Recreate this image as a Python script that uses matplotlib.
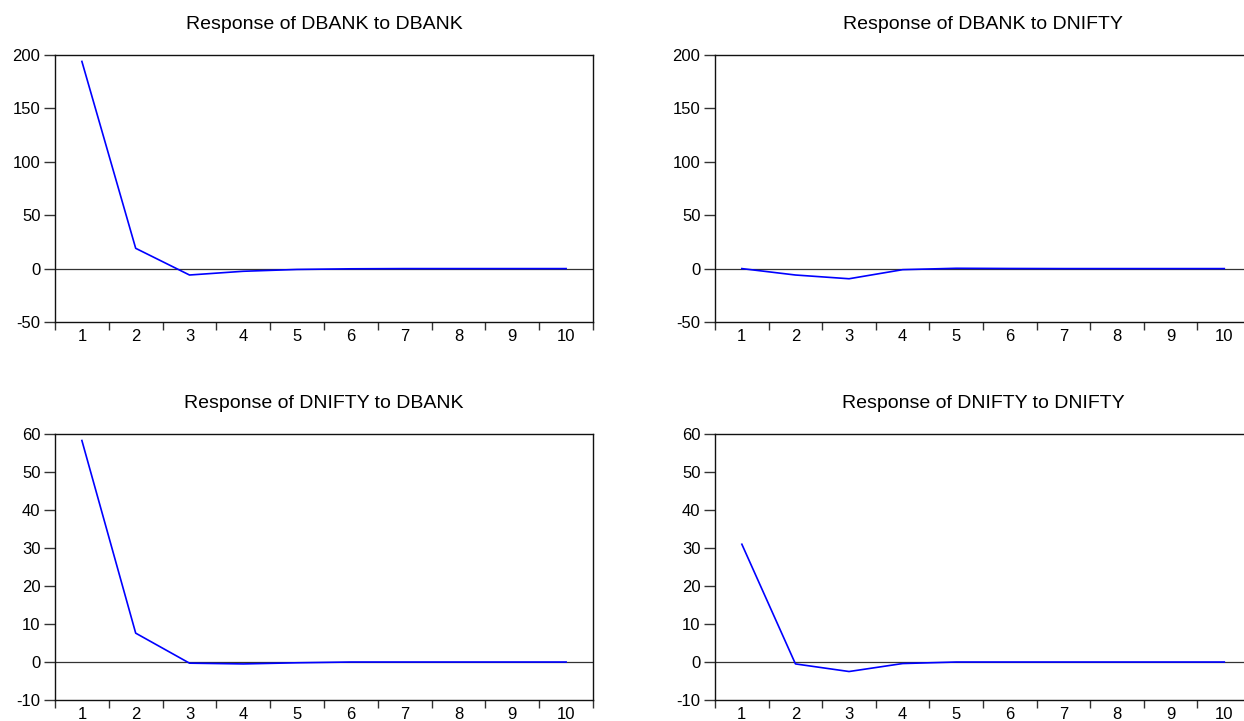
import matplotlib
matplotlib.use("Agg")
import matplotlib.pyplot as plt
from matplotlib.ticker import FixedLocator, NullFormatter, FixedFormatter

plt.rcParams['font.family'] = ['Liberation Sans', 'DejaVu Sans']

# ---------------- data (impulse responses, periods 1..10) ----------------
periods = [1, 2, 3, 4, 5, 6, 7, 8, 9, 10]
dbank_to_dbank = [194.0, 19.0, -6.0, -2.5, -0.8, -0.2, 0.0, 0.0, 0.0, 0.0]
dbank_to_dnifty = [0.0, -6.0, -9.5, -1.0, 0.3, 0.1, 0.0, 0.0, 0.0, 0.0]
dnifty_to_dbank = [58.3, 7.6, -0.3, -0.5, -0.2, 0.0, 0.0, 0.0, 0.0, 0.0]
dnifty_to_dnifty = [31.0, -0.5, -2.5, -0.4, 0.0, 0.0, 0.0, 0.0, 0.0, 0.0]

titles = ["Response of DBANK to DBANK", "Response of DBANK to DNIFTY",
          "Response of DNIFTY to DBANK", "Response of DNIFTY to DNIFTY"]
series = [dbank_to_dbank, dbank_to_dnifty, dnifty_to_dbank, dnifty_to_dnifty]
top_ticks = [-50, 0, 50, 100, 150, 200]
bottom_ticks = [-10, 0, 10, 20, 30, 40, 50, 60]
yticks = [top_ticks, top_ticks, bottom_ticks, bottom_ticks]

# axes boxes in figure fractions [left, bottom, width, height]
boxes = [[0.0442, 0.5534, 0.4325, 0.3703],
         [0.5748, 0.5534, 0.4309, 0.3703],
         [0.0442, 0.0291, 0.4325, 0.3689],
         [0.5748, 0.0291, 0.4309, 0.3689]]

fig = plt.figure(figsize=(12.44, 7.21), dpi=100)

for box, title, vals, yt in zip(boxes, titles, series, yticks):
    ax = fig.add_axes(box)
    ax.axhline(0, color='#333333', linewidth=0.9, zorder=1)
    ax.plot(periods, vals, color='#0000ff', linewidth=1.2, zorder=2)
    ax.set_xlim(0.5, 10.5)
    ax.set_ylim(yt[0], yt[-1])
    ax.set_yticks(yt)
    ax.set_yticklabels([str(t) for t in yt])
    # category boundaries carry the tick marks, labels sit in between
    ax.xaxis.set_major_locator(FixedLocator([p - 0.5 for p in periods] + [10.5]))
    ax.xaxis.set_major_formatter(NullFormatter())
    ax.xaxis.set_minor_locator(FixedLocator(periods))
    ax.xaxis.set_minor_formatter(FixedFormatter([str(p) for p in periods]))
    ax.tick_params(axis='x', which='major', direction='out', length=6, width=1, color='#333333')
    ax.tick_params(axis='x', which='minor', length=0, pad=5, labelsize=12)
    ax.tick_params(axis='y', direction='out', length=8, width=1, color='#333333', pad=2.5, labelsize=12)
    for s in ax.spines.values():
        s.set_linewidth(1.0)
        s.set_color('#111111')
    ax.set_title(title, fontsize=14, pad=19)

fig.savefig("out.png", dpi=100)
